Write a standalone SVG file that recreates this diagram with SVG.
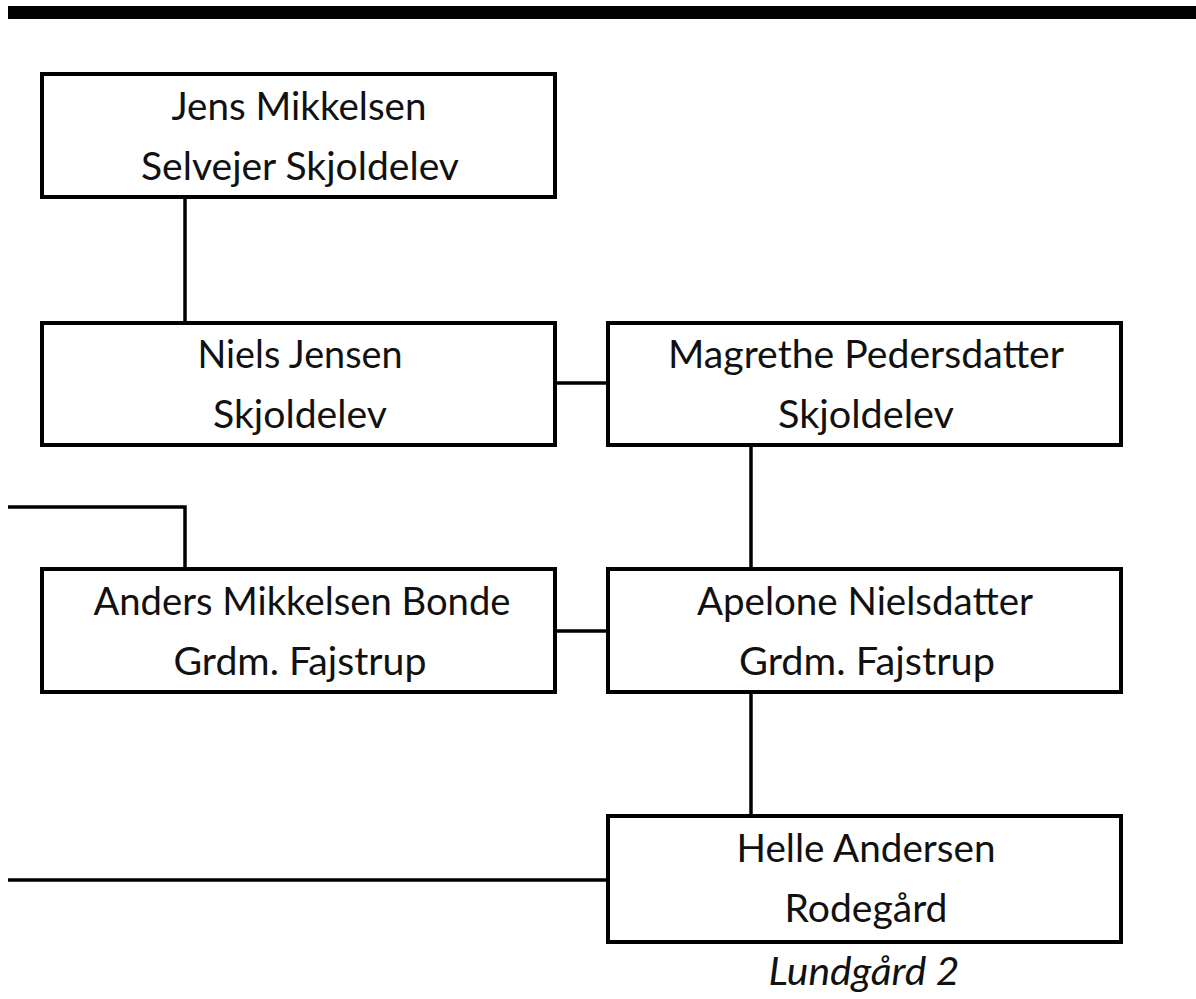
<svg xmlns="http://www.w3.org/2000/svg" width="1196" height="999" viewBox="0 0 1196 999">
<style>
.box{fill:#fff;stroke:#000;stroke-width:4}
.ln{fill:none;stroke:#000;stroke-width:3.5}
.t{font-family:Lato,"Open Sans","Liberation Sans",sans-serif;font-size:38px;fill:#111;text-anchor:middle}
.i{font-style:italic}
</style>
<rect x="8" y="6" width="1188" height="13" fill="#000"/>
<g id="connectors">
<line class="ln" x1="185" y1="197" x2="185" y2="323"/>
<line class="ln" x1="555" y1="383" x2="608" y2="383"/>
<line class="ln" x1="751" y1="445" x2="751" y2="569"/>
<path class="ln" d="M8,507 H185 V569"/>
<line class="ln" x1="555" y1="631" x2="608" y2="631"/>
<line class="ln" x1="751" y1="692" x2="751" y2="816"/>
<line class="ln" x1="8" y1="880" x2="608" y2="880"/>
</g>
<g id="jens">
<rect class="box" x="42" y="74" width="513" height="123"/>
<text class="t" x="299" y="120" textLength="255" lengthAdjust="spacingAndGlyphs">Jens Mikkelsen</text>
<text class="t" x="300" y="180" textLength="318" lengthAdjust="spacingAndGlyphs">Selvejer Skjoldelev</text>
</g>
<g id="niels">
<rect class="box" x="42" y="323" width="513" height="122"/>
<text class="t" x="300" y="368" textLength="205" lengthAdjust="spacingAndGlyphs">Niels Jensen</text>
<text class="t" x="300" y="428" textLength="174" lengthAdjust="spacingAndGlyphs">Skjoldelev</text>
</g>
<g id="magrethe">
<rect class="box" x="608" y="323" width="513" height="122"/>
<text class="t" x="866" y="368" textLength="396" lengthAdjust="spacingAndGlyphs">Magrethe Pedersdatter</text>
<text class="t" x="866" y="428" textLength="176" lengthAdjust="spacingAndGlyphs">Skjoldelev</text>
</g>
<g id="anders">
<rect class="box" x="42" y="569" width="513" height="123"/>
<text class="t" x="302" y="615" textLength="417" lengthAdjust="spacingAndGlyphs">Anders Mikkelsen Bonde</text>
<text class="t" x="300" y="675" textLength="253" lengthAdjust="spacingAndGlyphs">Grdm. Fajstrup</text>
</g>
<g id="apelone">
<rect class="box" x="608" y="569" width="513" height="123"/>
<text class="t" x="865" y="615" textLength="336" lengthAdjust="spacingAndGlyphs">Apelone Nielsdatter</text>
<text class="t" x="867" y="675" textLength="256" lengthAdjust="spacingAndGlyphs">Grdm. Fajstrup</text>
</g>
<g id="helle">
<rect class="box" x="608" y="816" width="513" height="126"/>
<text class="t" x="866" y="862" textLength="259" lengthAdjust="spacingAndGlyphs">Helle Andersen</text>
<text class="t" x="866" y="922" textLength="163" lengthAdjust="spacingAndGlyphs">Rodegård</text>
</g>
<text id="lundgaard" class="t i" x="864" y="985" textLength="191" lengthAdjust="spacingAndGlyphs">Lundgård 2</text>
</svg>
